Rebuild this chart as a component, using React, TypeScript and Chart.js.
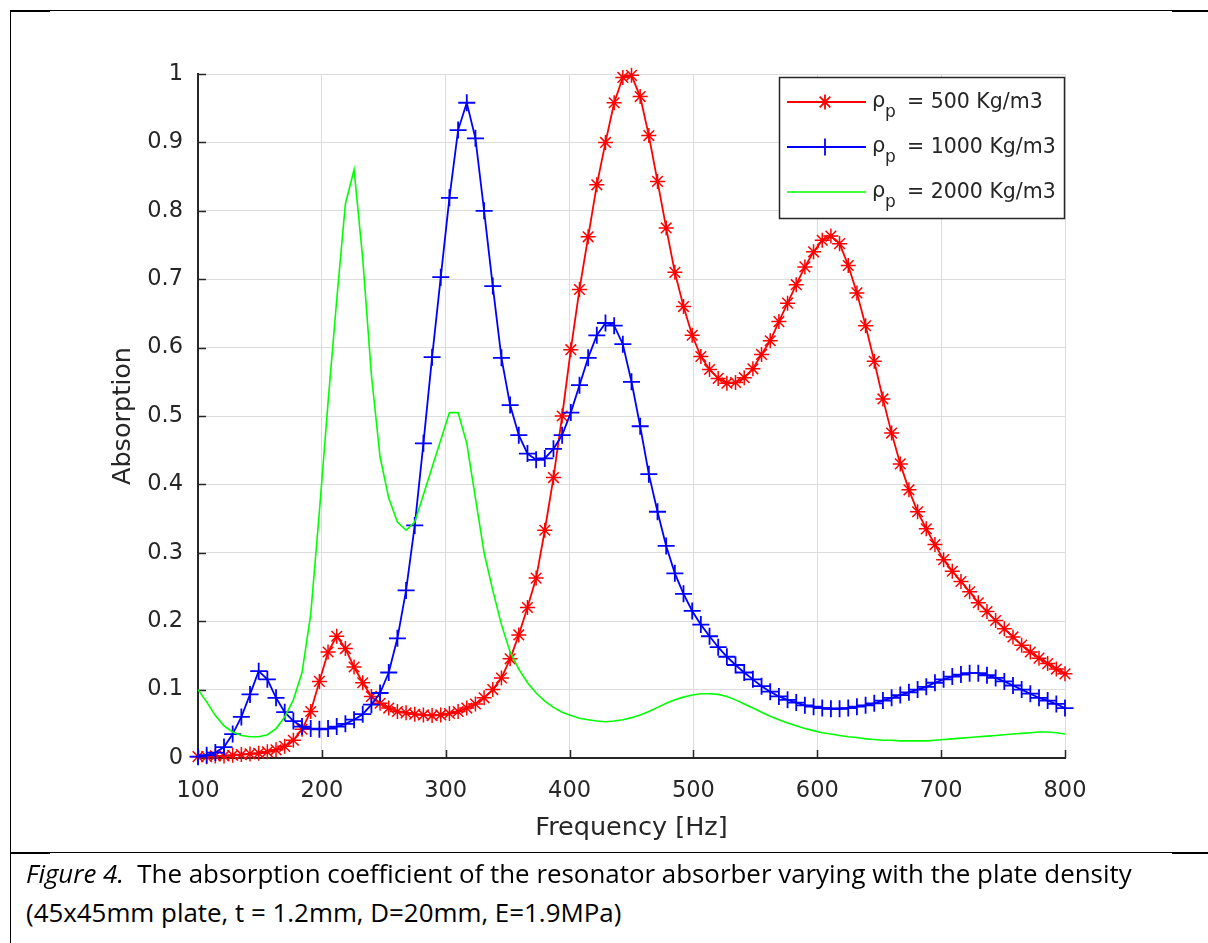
import React, { useEffect, useRef } from "react";
import { Chart, registerables } from "chart.js";
import { drawPoint } from "chart.js/helpers";

Chart.register(...registerables);

// Frequency grid (Hz)
const FREQ = [
  100, 107, 114, 121, 128, 135, 142, 149, 156, 163,
  170, 177, 184, 191, 198, 205, 212, 219, 226, 233,
  240, 247, 254, 261, 268, 275, 282, 289, 296, 303,
  310, 317, 324, 331, 338, 345, 352, 359, 366, 373,
  380, 387, 394, 401, 408, 415, 422, 429, 436, 443,
  450, 457, 464, 471, 478, 485, 492, 499, 506, 513,
  520, 527, 534, 541, 548, 555, 562, 569, 576, 583,
  590, 597, 604, 611, 618, 625, 632, 639, 646, 653,
  660, 667, 674, 681, 688, 695, 702, 709, 716, 723,
  730, 737, 744, 751, 758, 765, 772, 779, 786, 793,
  800,
];

// rho_p = 500 Kg/m3
const RHO500 = [
  0.002, 0.002, 0.003, 0.003, 0.004, 0.005, 0.006, 0.007, 0.009, 0.012,
  0.017, 0.026, 0.042, 0.068, 0.112, 0.155, 0.178, 0.160, 0.133, 0.110,
  0.090, 0.080, 0.073, 0.068, 0.066, 0.064, 0.063, 0.062, 0.063, 0.065,
  0.068, 0.073, 0.079, 0.088, 0.100, 0.117, 0.145, 0.180, 0.220, 0.263,
  0.333, 0.410, 0.500, 0.597, 0.685, 0.762, 0.838, 0.900, 0.958, 0.995,
  0.998, 0.967, 0.910, 0.843, 0.775, 0.710, 0.660, 0.618, 0.587, 0.568,
  0.555, 0.548, 0.549, 0.556, 0.569, 0.590, 0.610, 0.638, 0.665, 0.692,
  0.718, 0.740, 0.757, 0.763, 0.752, 0.720, 0.680, 0.632, 0.580, 0.525,
  0.475, 0.430, 0.392, 0.360, 0.335, 0.312, 0.290, 0.273, 0.258, 0.243,
  0.227, 0.214, 0.201, 0.189, 0.177, 0.165, 0.155, 0.146, 0.138, 0.130,
  0.123,
];

// rho_p = 1000 Kg/m3
const RHO1000 = [
  0.002, 0.004, 0.008, 0.016, 0.035, 0.060, 0.093, 0.127, 0.115, 0.088,
  0.067, 0.054, 0.046, 0.043, 0.042, 0.043, 0.046, 0.050, 0.056, 0.064,
  0.078, 0.095, 0.125, 0.175, 0.245, 0.340, 0.460, 0.586, 0.703, 0.819,
  0.918, 0.958, 0.906, 0.800, 0.690, 0.585, 0.516, 0.472, 0.445, 0.436,
  0.438, 0.452, 0.472, 0.505, 0.545, 0.585, 0.618, 0.636, 0.632, 0.605,
  0.550, 0.485, 0.415, 0.360, 0.310, 0.270, 0.240, 0.215, 0.195, 0.178,
  0.162, 0.148, 0.136, 0.125, 0.115, 0.105, 0.097, 0.090, 0.085, 0.081,
  0.077, 0.075, 0.073, 0.072, 0.072, 0.073, 0.075, 0.077, 0.080, 0.084,
  0.088, 0.092, 0.096, 0.100, 0.104, 0.110, 0.115, 0.119, 0.122, 0.124,
  0.124, 0.121, 0.117, 0.112, 0.106, 0.100, 0.094, 0.088, 0.084, 0.079,
  0.073,
];

// rho_p = 2000 Kg/m3
const RHO2000 = [
  0.100, 0.082, 0.062, 0.047, 0.038, 0.033, 0.031, 0.031, 0.034, 0.043,
  0.060, 0.085, 0.125, 0.210, 0.360, 0.520, 0.670, 0.810, 0.860, 0.730,
  0.560, 0.440, 0.380, 0.345, 0.333, 0.345, 0.385, 0.425, 0.465, 0.505,
  0.505, 0.460, 0.380, 0.300, 0.245, 0.195, 0.155, 0.130, 0.110, 0.095,
  0.083, 0.074, 0.067, 0.062, 0.058, 0.056, 0.054, 0.053, 0.054, 0.056,
  0.059, 0.063, 0.068, 0.074, 0.080, 0.085, 0.089, 0.092, 0.094, 0.094,
  0.093, 0.090, 0.085, 0.079, 0.073, 0.067, 0.061, 0.056, 0.051, 0.047,
  0.043, 0.040, 0.037, 0.035, 0.033, 0.031, 0.030, 0.028, 0.027, 0.026,
  0.026, 0.025, 0.025, 0.025, 0.025, 0.026, 0.027, 0.028, 0.029, 0.030,
  0.031, 0.032, 0.033, 0.034, 0.035, 0.036, 0.037, 0.038, 0.038, 0.037,
  0.035,
];

const X_TICKS = [100, 200, 300, 400, 500, 600, 700, 800];
const Y_TICKS = [0, 0.1, 0.2, 0.3, 0.4, 0.5, 0.6, 0.7, 0.8, 0.9, 1];
const DENSITY_LABELS = ["500", "1000", "2000"];
const X_TITLE = "Frequency [Hz]";
const Y_TITLE = "Absorption";
const CAPTION_LABEL = "Figure 4.";
const CAPTION_LINE1 = "The absorption coefficient of the resonator absorber varying with the plate density";
const CAPTION_LINE2 = "(45x45mm plate, t = 1.2mm, D=20mm, E=1.9MPa)";

const AXIS_COLOR = "#262626";
const FONT = "'DejaVu Sans', 'Liberation Sans', Arial, sans-serif";

const toPoints = (vals: number[]) => FREQ.map((f, i) => ({ x: f, y: vals[i] }));

const inwardTicks = {
  id: "inwardTicks",
  beforeDatasetsDraw(chart: any) {
    const { ctx, chartArea: a, scales } = chart;
    const x = scales.x;
    const y = scales.y;
    ctx.save();
    ctx.strokeStyle = AXIS_COLOR;
    ctx.lineWidth = 1.5;
    ctx.beginPath();
    X_TICKS.forEach((v) => {
      const px = Math.round(x.getPixelForValue(v)) + 0.5;
      ctx.moveTo(px, a.bottom);
      ctx.lineTo(px, a.bottom - 8);
    });
    Y_TICKS.forEach((v) => {
      const py = Math.round(y.getPixelForValue(v)) + 0.5;
      ctx.moveTo(a.left, py);
      ctx.lineTo(a.left + 8, py);
    });
    ctx.stroke();
    ctx.restore();
  },
};

const matlabLegend = {
  id: "matlabLegend",
  afterDraw(chart: any) {
    const { ctx, chartArea: a } = chart;
    const boxW = 285;
    const boxH = 141;
    const boxL = a.right - boxW - 1;
    const boxT = a.top + 3;
    ctx.save();
    ctx.fillStyle = "#ffffff";
    ctx.fillRect(boxL, boxT, boxW, boxH);
    ctx.strokeStyle = AXIS_COLOR;
    ctx.lineWidth = 1.5;
    ctx.strokeRect(boxL + 0.5, boxT + 0.5, boxW, boxH);
    chart.data.datasets.forEach((ds: any, i: number) => {
      const cy = boxT + 25 + i * 45;
      ctx.strokeStyle = ds.borderColor;
      ctx.lineWidth = ds.borderWidth;
      ctx.beginPath();
      ctx.moveTo(boxL + 8, cy);
      ctx.lineTo(boxL + 87, cy);
      ctx.stroke();
      if (ds.pointRadius > 0) {
        ctx.strokeStyle = ds.pointBorderColor;
        ctx.fillStyle = ds.pointBorderColor;
        drawPoint(
          ctx,
          { pointStyle: ds.pointStyle, radius: ds.pointRadius, borderWidth: ds.pointBorderWidth, rotation: 0 } as any,
          boxL + 46,
          cy
        );
      }
      ctx.fillStyle = AXIS_COLOR;
      ctx.textAlign = "left";
      ctx.textBaseline = "alphabetic";
      ctx.font = `21px ${FONT}`;
      ctx.fillText("ρ", boxL + 93, cy + 5);
      ctx.font = `17px ${FONT}`;
      ctx.fillText("p", boxL + 106, cy + 15);
      ctx.font = `20.5px ${FONT}`;
      ctx.fillText(`= ${DENSITY_LABELS[i]} Kg/m3`, boxL + 128, cy + 6);
    });
    ctx.restore();
  },
};

function ChartCanvas() {
  const ref = useRef<HTMLCanvasElement>(null);
  useEffect(() => {
    if (!ref.current) return;
    const chart = new Chart(ref.current, {
      type: "line",
      data: {
        datasets: [
          {
            label: DENSITY_LABELS[0],
            data: toPoints(RHO500),
            borderColor: "#ff0000",
            backgroundColor: "#ff0000",
            borderWidth: 1.8,
            pointStyle: "star",
            pointRadius: 7.5,
            pointBorderWidth: 1.5,
            pointBorderColor: "#ff0000",
            pointBackgroundColor: "#ff0000",
            tension: 0,
            clip: false,
            order: 2,
          },
          {
            label: DENSITY_LABELS[1],
            data: toPoints(RHO1000),
            borderColor: "#0000ff",
            backgroundColor: "#0000ff",
            borderWidth: 1.8,
            pointStyle: "cross",
            pointRadius: 8.5,
            pointBorderWidth: 1.8,
            pointBorderColor: "#0000ff",
            pointBackgroundColor: "#0000ff",
            tension: 0,
            clip: false,
            order: 1,
          },
          {
            label: DENSITY_LABELS[2],
            data: toPoints(RHO2000),
            borderColor: "#00ff00",
            backgroundColor: "#00ff00",
            borderWidth: 1.6,
            pointRadius: 0,
            pointStyle: "circle",
            tension: 0,
            clip: false,
            order: 0,
          },
        ],
      } as any,
      options: {
        animation: false,
        responsive: false,
        maintainAspectRatio: false,
        events: [],
        layout: { padding: { top: 74, right: 143, left: 106, bottom: 0 } },
        plugins: { legend: { display: false }, tooltip: { enabled: false } },
        scales: {
          x: {
            type: "linear",
            min: 100,
            max: 800,
            afterBuildTicks: (s: any) => {
              s.ticks = X_TICKS.map((v) => ({ value: v }));
            },
            afterFit: (s: any) => {
              s.height = 92;
            },
            grid: { color: "#dcdcdc", lineWidth: 1, drawTicks: false },
            border: { color: AXIS_COLOR, width: 2 },
            ticks: {
              padding: 20,
              color: AXIS_COLOR,
              autoSkip: false,
              maxRotation: 0,
              font: { family: FONT, size: 22.5 },
              callback: (v: any) => String(v),
            },
            title: {
              display: true,
              text: X_TITLE,
              color: AXIS_COLOR,
              font: { family: FONT, size: 25.5 },
              padding: { top: 0, bottom: 6 },
            },
          },
          y: {
            type: "linear",
            min: 0,
            max: 1,
            afterBuildTicks: (s: any) => {
              s.ticks = Y_TICKS.map((v) => ({ value: v }));
            },
            afterFit: (s: any) => {
              s.width = 92;
            },
            grid: { color: "#dcdcdc", lineWidth: 1, drawTicks: false },
            border: { color: AXIS_COLOR, width: 2 },
            ticks: {
              padding: 15,
              color: AXIS_COLOR,
              font: { family: FONT, size: 22.5 },
              callback: (v: any) => String(Number(Number(v).toFixed(1))),
            },
            title: {
              display: true,
              text: Y_TITLE,
              color: AXIS_COLOR,
              font: { family: FONT, size: 25.5 },
              padding: { top: 2, bottom: 0 },
            },
          },
        },
      } as any,
      plugins: [inwardTicks, matlabLegend],
    });
    return () => chart.destroy();
  }, []);
  return (
    <canvas
      ref={ref}
      width={1208}
      height={850}
      style={{ position: "absolute", left: 0, top: 0, width: 1208, height: 850 }}
    />
  );
}

const line = (l: number, t: number, w: number, h: number) => (
  <div style={{ position: "absolute", left: l, top: t, width: w, height: h, background: "#000" }} />
);

export default function App() {
  const captionFont = "'Open Sans', Lato, sans-serif";
  const captionStyle: React.CSSProperties = {
    position: "absolute",
    left: 26,
    fontFamily: captionFont,
    fontSize: 25.9,
    lineHeight: "30px",
    color: "#000",
    whiteSpace: "nowrap",
  };
  return (
    <div style={{ position: "absolute", left: 0, top: 0, width: 1208, height: 943, background: "#fff", overflow: "hidden" }}>
      <ChartCanvas />
      {line(10, 10, 1198, 1)}
      {line(10, 10, 40, 2)}
      {line(1172, 10, 36, 2)}
      {line(10, 10, 1, 933)}
      {line(10, 852, 1198, 1)}
      {line(10, 852, 40, 2)}
      {line(1172, 852, 36, 2)}
      <div style={{ ...captionStyle, top: 858 }}>
        <i>{CAPTION_LABEL}</i>
        {"\u00a0 "}
        {CAPTION_LINE1}
      </div>
      <div style={{ ...captionStyle, top: 897 }}>{CAPTION_LINE2}</div>
    </div>
  );
}
